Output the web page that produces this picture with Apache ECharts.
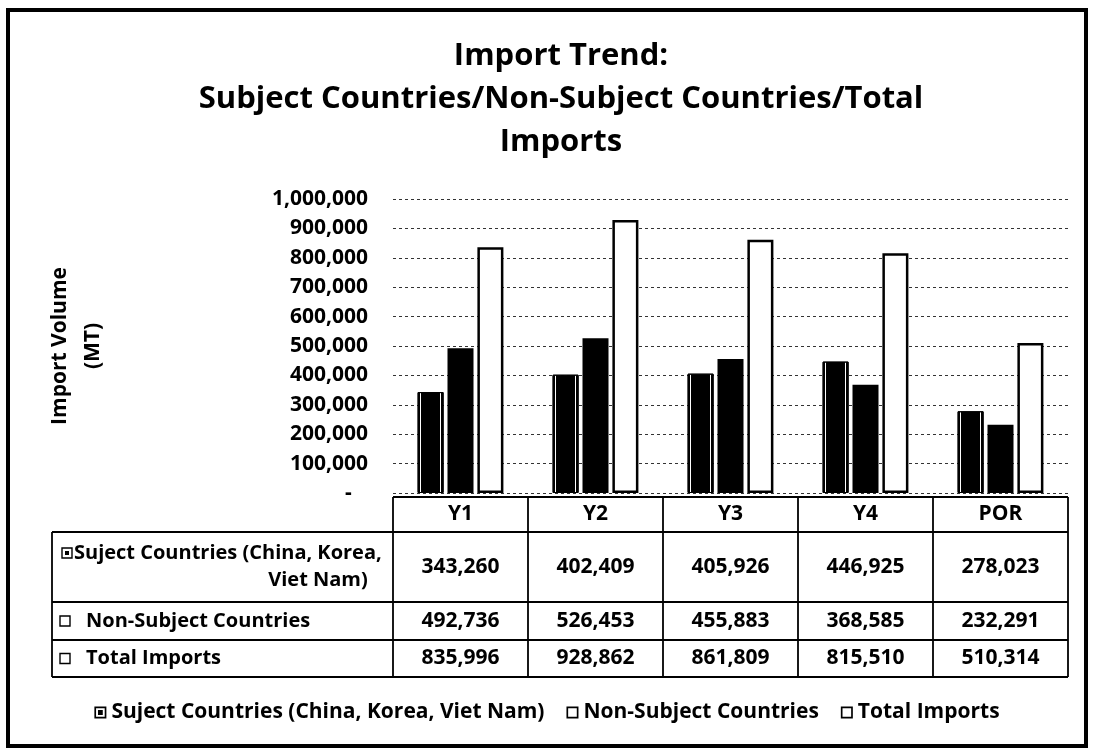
<!DOCTYPE html>
<html>
<head>
<meta charset="utf-8">
<title>Import Trend</title>
<script src="https://cdn.jsdelivr.net/npm/echarts@6/dist/echarts.min.js"></script>
<style>
  html, body { margin: 0; padding: 0; background: #fff; }
  #chart { width: 1094px; height: 756px; }
</style>
</head>
<body>
<div id="chart"></div>
<script>
// Import volumes (MT) by period
const categories = ['Y1', 'Y2', 'Y3', 'Y4', 'POR'];
const subjectImports = [343260, 402409, 405926, 446925, 278023];
const nonSubjectImports = [492736, 526453, 455883, 368585, 232291];
const totalImports = [835996, 928862, 861809, 815510, 510314];
const seriesNames = ['Suject Countries (China, Korea, Viet Nam)', 'Non-Subject Countries', 'Total Imports'];
const subjectRowLines = ['Suject Countries (China, Korea,', 'Viet Nam)'];
const yMax = 1000000;
const yStep = 100000;

const FONT = '"Open Sans", "Noto Sans", sans-serif';
const fmt = v => v.toLocaleString('en-US');

const chart = echarts.init(document.getElementById('chart'), null, { renderer: 'canvas' });

// black bar with a thin white inner outline on the sides
const subjectFill = {
  type: 'linear', x: 0, y: 0, x2: 1, y2: 0,
  colorStops: [
    { offset: 0, color: '#000' }, { offset: 0.09, color: '#000' },
    { offset: 0.09, color: '#fff' }, { offset: 0.14, color: '#fff' },
    { offset: 0.14, color: '#000' }, { offset: 0.86, color: '#000' },
    { offset: 0.86, color: '#fff' }, { offset: 0.91, color: '#fff' },
    { offset: 0.91, color: '#000' }, { offset: 1, color: '#000' }
  ]
};

const boxIcon = 'path://M0,0H10V10H0Z M1.4,1.4V8.6H8.6V1.4Z';
const keyIcon = 'path://M0,0H10V10H0Z M1.4,1.4V8.6H8.6V1.4Z M3,3H7V7H3Z';

const option = {
  backgroundColor: '#fff',
  animation: false,
  title: {
    text: 'Import Trend:\nSubject Countries/Non-Subject Countries/Total\nImports',
    left: 556,
    top: 30,
    textAlign: 'center',
    textStyle: {
      fontFamily: FONT, fontWeight: 'bold', fontSize: 31, lineHeight: 43, color: '#000'
    }
  },
  grid: { left: 393, right: 26, top: 199, bottom: 263, containLabel: false },
  legend: {
    data: seriesNames.map((n, i) => ({ name: n, icon: i === 0 ? keyIcon : boxIcon })),
    left: 'center',
    top: 697,
    itemWidth: 12,
    itemHeight: 12,
    itemGap: 22,
    selectedMode: false,
    itemStyle: { color: '#000', borderWidth: 0 },
    textStyle: { fontFamily: FONT, fontWeight: 'bold', fontSize: 21, color: '#000' }
  },
  xAxis: {
    type: 'category',
    data: categories,
    axisLine: { show: false },
    axisTick: { show: false },
    axisLabel: { show: false }
  },
  yAxis: {
    type: 'value',
    min: 0,
    max: yMax,
    interval: yStep,
    name: 'Import Volume\n(MT)',
    nameLocation: 'middle',
    nameRotate: 90,
    nameGap: 283,
    nameTextStyle: { fontFamily: FONT, fontWeight: 'bold', fontSize: 21, lineHeight: 33, color: '#000' },
    axisLine: { show: false },
    axisTick: { show: false },
    axisLabel: {
      margin: 25,
      fontFamily: FONT, fontWeight: 'bold', fontSize: 21, color: '#000',
      formatter: v => (v === 0 ? '-   ' : fmt(v))
    },
    splitLine: { lineStyle: { color: '#333', width: 1, type: [3, 3] } }
  },
  series: [
    {
      name: seriesNames[0], type: 'bar', data: subjectImports,
      barWidth: 26, barGap: '15%',
      itemStyle: { color: subjectFill, borderColor: '#000', borderWidth: 1 }
    },
    {
      name: seriesNames[1], type: 'bar', data: nonSubjectImports,
      barWidth: 26, barGap: '15%',
      itemStyle: { color: '#000', borderColor: '#000', borderWidth: 1.5 }
    },
    {
      name: seriesNames[2], type: 'bar', data: totalImports,
      barWidth: 26, barGap: '15%',
      itemStyle: { color: '#fff', borderColor: '#000', borderWidth: 2.5 }
    }
  ]
};

chart.setOption(option);

// Data table beneath the plot, aligned to the category axis
function buildTable() {
  const centers = categories.map(c => chart.convertToPixel({ xAxisIndex: 0 }, c));
  const band = centers[1] - centers[0];
  const colEdges = [centers[0] - band / 2].concat(centers.map(c => c + band / 2));
  const zeroY = chart.convertToPixel({ yAxisIndex: 0 }, 0);
  const rows = [zeroY + 4, zeroY + 39, zeroY + 109, zeroY + 147, zeroY + 184];
  const labelLeft = 52;
  const tableRight = colEdges[colEdges.length - 1];
  const lineStyle = { stroke: '#000', lineWidth: 1.8 };
  const valueFont = 'bold 21px ' + FONT;
  const labelFont = 'bold 20px ' + FONT;
  const els = [];

  const hLine = (x1, x2, y) => els.push({ type: 'line', shape: { x1, y1: y, x2, y2: y }, style: lineStyle, silent: true });
  const vLine = (x, y1, y2) => els.push({ type: 'line', shape: { x1: x, y1, x2: x, y2 }, style: lineStyle, silent: true });
  const text = (str, x, y, align, font) => els.push({
    type: 'text', silent: true,
    style: { text: str, x, y, align: align || 'center', verticalAlign: 'middle', font: font || valueFont, fill: '#000' }
  });

  hLine(colEdges[0], tableRight, rows[0]);
  for (let r = 1; r < rows.length; r++) hLine(labelLeft, tableRight, rows[r]);
  colEdges.forEach(x => vLine(x, rows[0], rows[rows.length - 1]));
  vLine(labelLeft, rows[1], rows[rows.length - 1]);

  // header row
  categories.forEach((c, i) => text(c, centers[i], (rows[0] + rows[1]) / 2));

  // value rows
  const rowValues = [subjectImports, nonSubjectImports, totalImports];
  rowValues.forEach((vals, r) => {
    const yMid = (rows[r + 1] + rows[r + 2]) / 2;
    vals.forEach((v, i) => text(fmt(v), centers[i], yMid));
  });

  // row keys and labels
  const key = (x, y, filled) => {
    els.push({ type: 'rect', silent: true, shape: { x, y: y - 5, width: 10, height: 10 },
      style: { fill: '#fff', stroke: '#000', lineWidth: 1.4 } });
    if (filled) els.push({ type: 'rect', silent: true, shape: { x: x + 3, y: y - 2, width: 4, height: 4 }, style: { fill: '#000' } });
  };
  const r1 = (rows[1] + rows[2]) / 2;
  key(62, r1 - 14, true);
  text(subjectRowLines[0], 74, r1 - 14, 'left', labelFont);
  text(subjectRowLines[1], 318, r1 + 13, 'center', labelFont);

  const r2 = (rows[2] + rows[3]) / 2;
  key(60, r2, false);
  text(seriesNames[1], 86, r2, 'left', labelFont);

  const r3 = (rows[3] + rows[4]) / 2;
  key(60, r3, false);
  text(seriesNames[2], 86, r3, 'left', labelFont);

  // outer frame
  els.push({ type: 'rect', silent: true, shape: { x: 8, y: 10, width: 1078, height: 736 },
    style: { fill: null, stroke: '#000', lineWidth: 4 } });

  chart.setOption({ graphic: { elements: els } });
}

buildTable();
</script>
</body>
</html>
